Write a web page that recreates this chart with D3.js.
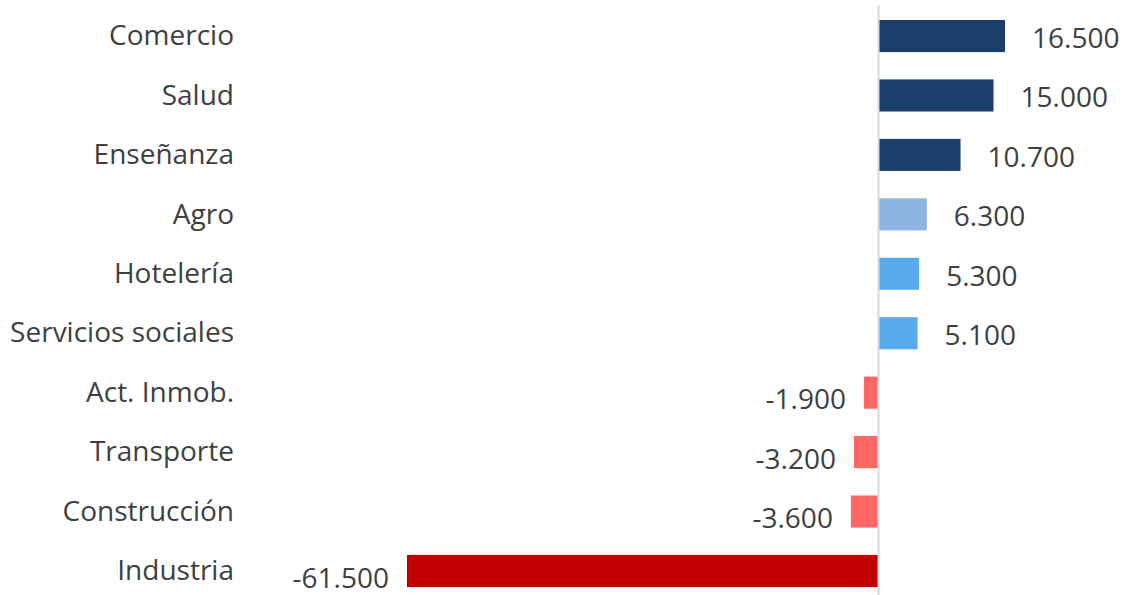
<!DOCTYPE html>
<html>
<head>
<meta charset="utf-8">
<script src="https://cdn.jsdelivr.net/npm/d3@7"></script>
<style>
	body { margin: 0; background: #fff; }
	text { font-family: 'Open Sans', 'Noto Sans', sans-serif; }
</style>
</head>
<body>
<div id="chart"></div>
<script>
const WIDTH = 1127;
const HEIGHT = 595;

// data
const CATEGORIES = ['Comercio', 'Salud', 'Enseñanza', 'Agro', 'Hotelería', 'Servicios sociales',
	'Act. Inmob.', 'Transporte', 'Construcción', 'Industria'];
const VALUES = [16500, 15000, 10700, 6300, 5300, 5100, -1900, -3200, -3600, -61500];
const BAR_COLORS = ['#1a3f6b', '#1a3f6b', '#1a3f6b', '#8db4e2', '#5aaaf0', '#5aaaf0',
	'#ff6666', '#ff6666', '#ff6666', '#c00000'];

const TEXT_COLOR = '#404040';
const fmt = d3.formatLocale({ decimal: ',', thousands: '.', grouping: [3], currency: ['', ''] }).format(',d');

const svg = d3.select('#chart')
	.append('svg')
	.attr('width', WIDTH)
	.attr('height', HEIGHT);

// scales
const xScale = d3.scaleLinear()
	.domain([-61500, 16500])
	.range([407, 1005]);
const yScale = d3.scaleBand()
	.domain(CATEGORIES)
	.range([6.3, 600.7])
	.paddingInner(0.46)
	.paddingOuter(0.23);

const rows = CATEGORIES.map((name, i) => ({ name, value: VALUES[i], color: BAR_COLORS[i] }));

// bars
svg.selectAll('rect.bar')
	.data(rows)
	.enter()
	.append('rect')
	.attr('class', 'bar')
	.attr('x', d => xScale(Math.min(0, d.value)))
	.attr('width', d => Math.abs(xScale(d.value) - xScale(0)))
	.attr('y', d => yScale(d.name))
	.attr('height', yScale.bandwidth())
	.attr('fill', d => d.color);

// zero line
svg.append('line')
	.attr('x1', xScale(0))
	.attr('x2', xScale(0))
	.attr('y1', 5)
	.attr('y2', HEIGHT)
	.attr('stroke', '#d9d9d9')
	.attr('stroke-width', 2);

// category axis on the left
const yAxis = d3.axisLeft(yScale).tickSize(0).tickPadding(0);
const axisG = svg.append('g')
	.attr('transform', 'translate(234, 0)')
	.call(yAxis);
axisG.select('.domain').remove();
axisG.selectAll('text')
	.attr('fill', TEXT_COLOR)
	.style('font-size', '28px')
	.style('font-family', "'Open Sans', 'Noto Sans', sans-serif")
	.attr('dy', '0.33em');

// value labels
svg.selectAll('text.value')
	.data(rows)
	.enter()
	.append('text')
	.attr('class', 'value')
	.attr('x', d => d.value >= 0 ? xScale(d.value) + 27 : xScale(d.value) - 18)
	.attr('y', d => yScale(d.name) + yScale.bandwidth() / 2 + (d.value >= 0 ? 2 : 7))
	.attr('dy', '0.35em')
	.attr('text-anchor', d => d.value >= 0 ? 'start' : 'end')
	.attr('fill', TEXT_COLOR)
	.style('font-size', '28px')
	.text(d => fmt(d.value).replace('−', '-'));
</script>
</body>
</html>
